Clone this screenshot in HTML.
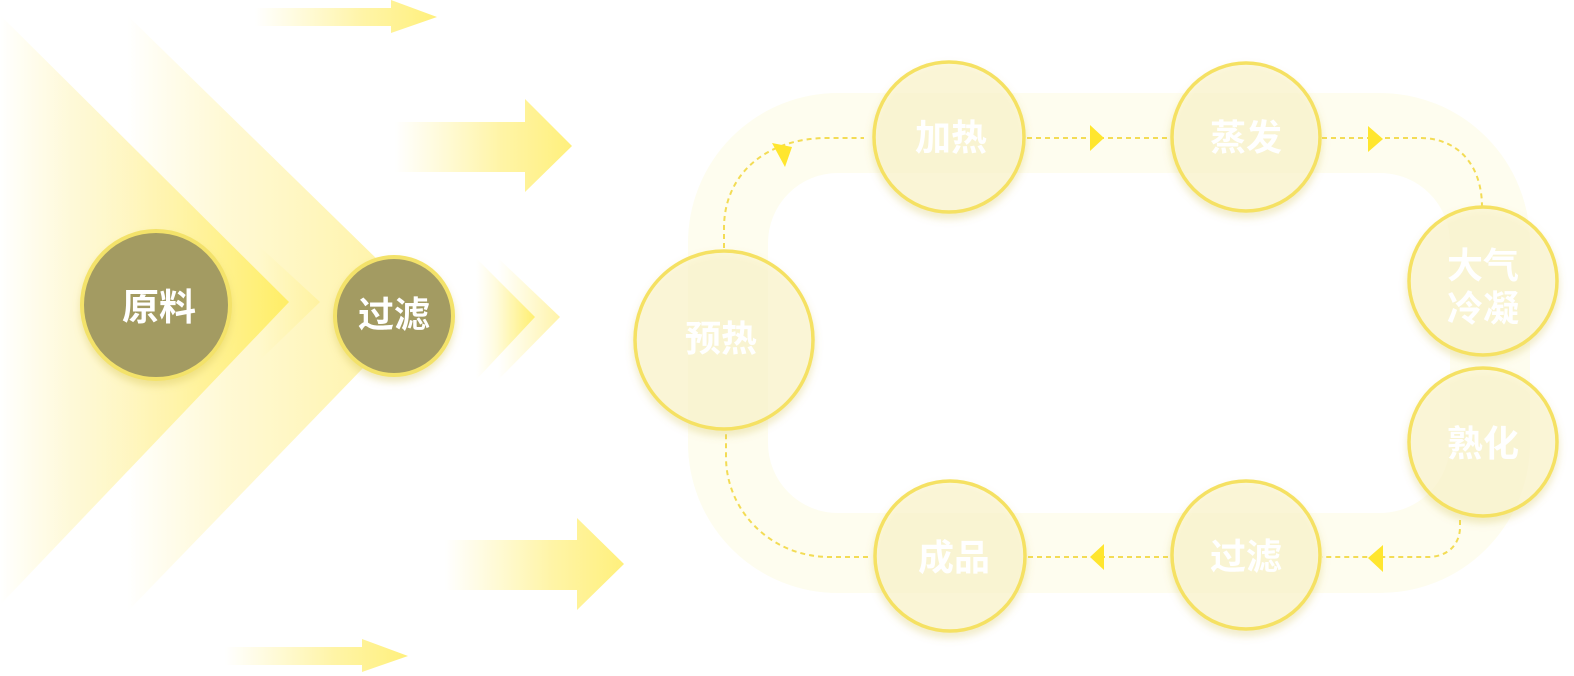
<!DOCTYPE html>
<html>
<head>
<meta charset="utf-8">
<style>
html,body{margin:0;padding:0;background:#fff;}
svg{display:block;}
text{font-family:"Liberation Sans","Noto Sans CJK SC",sans-serif;font-weight:bold;fill:#fff;}
</style>
</head>
<body>
<svg width="1574" height="676" viewBox="0 0 1574 676" xmlns="http://www.w3.org/2000/svg">
<defs>
  <linearGradient id="gA" gradientUnits="userSpaceOnUse" x1="0" y1="0" x2="289" y2="0">
    <stop offset="0" stop-color="#fff6b0" stop-opacity="0"/>
    <stop offset="0.25" stop-color="#fef4b8" stop-opacity="0.55"/>
    <stop offset="0.6" stop-color="#fff3a4" stop-opacity="0.9"/>
    <stop offset="1" stop-color="#ffee66" stop-opacity="1"/>
  </linearGradient>
  <linearGradient id="gB" gradientUnits="userSpaceOnUse" x1="127" y1="0" x2="424" y2="0">
    <stop offset="0" stop-color="#fff6b8" stop-opacity="0"/>
    <stop offset="0.35" stop-color="#fff6c0" stop-opacity="0.7"/>
    <stop offset="1" stop-color="#fff29c" stop-opacity="1"/>
  </linearGradient>
  <linearGradient id="gS" gradientUnits="userSpaceOnUse" x1="258" y1="0" x2="320" y2="0">
    <stop offset="0" stop-color="#fff6b0" stop-opacity="0"/>
    <stop offset="1" stop-color="#fff2a0" stop-opacity="1"/>
  </linearGradient>
  <linearGradient id="gC1" gradientUnits="userSpaceOnUse" x1="476" y1="0" x2="535" y2="0">
    <stop offset="0" stop-color="#fff6b0" stop-opacity="0"/>
    <stop offset="1" stop-color="#ffef70" stop-opacity="1"/>
  </linearGradient>
  <linearGradient id="gC2" gradientUnits="userSpaceOnUse" x1="498" y1="0" x2="560" y2="0">
    <stop offset="0" stop-color="#fff6b0" stop-opacity="0"/>
    <stop offset="1" stop-color="#fff3a8" stop-opacity="1"/>
  </linearGradient>
  <linearGradient id="gAr1" gradientUnits="userSpaceOnUse" x1="255" y1="0" x2="437" y2="0">
    <stop offset="0" stop-color="#fff4a0" stop-opacity="0"/>
    <stop offset="0.6" stop-color="#fff39c" stop-opacity="0.9"/>
    <stop offset="1" stop-color="#fff07c" stop-opacity="1"/>
  </linearGradient>
  <linearGradient id="gAr2" gradientUnits="userSpaceOnUse" x1="395" y1="0" x2="572" y2="0">
    <stop offset="0" stop-color="#fff4a0" stop-opacity="0"/>
    <stop offset="0.6" stop-color="#fff39c" stop-opacity="0.9"/>
    <stop offset="1" stop-color="#fff07c" stop-opacity="1"/>
  </linearGradient>
  <linearGradient id="gAr3" gradientUnits="userSpaceOnUse" x1="445" y1="0" x2="624" y2="0">
    <stop offset="0" stop-color="#fff4a0" stop-opacity="0"/>
    <stop offset="0.6" stop-color="#fff39c" stop-opacity="0.9"/>
    <stop offset="1" stop-color="#fff07c" stop-opacity="1"/>
  </linearGradient>
  <linearGradient id="gAr4" gradientUnits="userSpaceOnUse" x1="225" y1="0" x2="408" y2="0">
    <stop offset="0" stop-color="#fff4a0" stop-opacity="0"/>
    <stop offset="0.6" stop-color="#fff39c" stop-opacity="0.9"/>
    <stop offset="1" stop-color="#fff07c" stop-opacity="1"/>
  </linearGradient>
  <filter id="sh" x="-30%" y="-30%" width="160%" height="170%">
    <feDropShadow dx="0" dy="5" stdDeviation="4" flood-color="#d6c45a" flood-opacity="0.4"/>
  </filter>
</defs>

<!-- Left chevrons -->
<polygon points="127,15 424,305 127,612" fill="url(#gB)"/>
<polygon points="258,245 320,302 258,362" fill="url(#gS)"/>
<polygon points="0,15 289,302 0,605" fill="url(#gA)"/>

<polygon points="498,258 560,317 498,380" fill="url(#gC2)"/>
<polygon points="476,258 535,317 476,380" fill="url(#gC1)"/>

<!-- Arrows -->
<polygon points="255,8 391,8 391,0 437,17 391,33 391,26 255,26" fill="url(#gAr1)"/>
<polygon points="395,122 525,122 525,99 572,146 525,192 525,172 395,172" fill="url(#gAr2)"/>
<polygon points="445,540 577,540 577,518 624,564 577,610 577,590 445,590" fill="url(#gAr3)"/>
<polygon points="225,647 362,647 362,639 408,656 362,672 362,665 225,665" fill="url(#gAr4)"/>

<!-- Left dark circles -->
<g filter="url(#sh)">
  <circle cx="156" cy="305" r="74" fill="#a39b62" stroke="#f3e26a" stroke-width="4"/>
  <circle cx="394" cy="316" r="59" fill="#a39b62" stroke="#f3e26a" stroke-width="4"/>
</g>
<text x="159" y="320" font-size="37" text-anchor="middle">原料</text>
<text x="394" y="327" font-size="36" text-anchor="middle">过滤</text>

<!-- Right track band -->
<rect x="728" y="133" width="762" height="420" rx="110" ry="110" fill="none" stroke="#fefdef" stroke-width="80"/>

<!-- Dashed connectors -->
<g fill="none" stroke="#f3dc55" stroke-width="2" stroke-dasharray="5 4">
  <path d="M724,248 L724,228 C724,175 765,138 828,138 L864,138"/>
  <path d="M1027,138 L1168,138"/>
  <path d="M1322,138 L1420,138 C1458,138 1482,165 1482,207"/>
  <path d="M1460,520 L1460,527 C1460,545 1447,557 1428,557 L1322,557"/>
  <path d="M1168,557 L1027,557"/>
  <path d="M868,557 L830,557 C770,557 726,510 726,457 L726,432"/>
</g>
<!-- Arrowheads -->
<g fill="#ffe62e">
  <polygon points="772,143 792,147 785,167"/>
  <polygon points="1090,125 1104,138 1090,151"/>
  <polygon points="1368,126 1383,139 1368,152"/>
  <polygon points="1383,545 1368,558 1383,572"/>
  <polygon points="1104,544 1090,557 1104,570"/>
</g>

<!-- Right light circles -->
<g filter="url(#sh)" fill="#fcf6d4" fill-opacity="0.72" stroke="#f5e163" stroke-width="3.5">
  <circle cx="724" cy="340" r="89"/>
  <circle cx="949" cy="137" r="75"/>
  <circle cx="1246" cy="137" r="74"/>
  <circle cx="1483" cy="281" r="74"/>
  <circle cx="1483" cy="442" r="74"/>
  <circle cx="1246" cy="555" r="74"/>
  <circle cx="950" cy="556" r="75"/>
</g>
<g font-size="36" text-anchor="middle">
  <text x="721" y="351">预热</text>
  <text x="951" y="150">加热</text>
  <text x="1246" y="150">蒸发</text>
  <text x="1483" y="278">大气</text>
  <text x="1483" y="321">冷凝</text>
  <text x="1483" y="456">熟化</text>
  <text x="1246" y="569">过滤</text>
  <text x="954" y="570">成品</text>
</g>
</svg>
</body>
</html>
